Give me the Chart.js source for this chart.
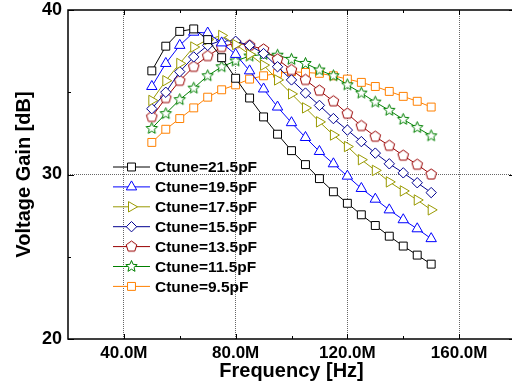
<!DOCTYPE html>
<html>
<head>
<meta charset="utf-8">
<script src="https://cdn.jsdelivr.net/npm/chart.js@4.4.0/dist/chart.umd.min.js"></script>
<style>
    html, body { margin: 0; padding: 0; background: #fff; overflow: hidden; }
</style>
</head>
<body>
<canvas id="gainChart" width="522" height="383"></canvas>
<script>
// frequency points [MHz]
const freqs = [50, 55, 60, 65, 70, 75, 80, 85, 90, 95, 100, 105, 110, 115, 120, 125, 130, 135, 140, 145, 150];

const seriesNames = ['Ctune=21.5pF', 'Ctune=19.5pF', 'Ctune=17.5pF', 'Ctune=15.5pF', 'Ctune=13.5pF', 'Ctune=11.5pF', 'Ctune=9.5pF'];

// voltage gain [dB]
const gain215 = [36.3, 37.8, 38.7, 38.85, 38.2, 37.1, 35.85, 34.65, 33.5, 32.45, 31.45, 30.6, 29.75, 28.95, 28.25, 27.55, 26.9, 26.25, 25.65, 25.1, 24.55];
const gain195 = [35.35, 36.75, 37.85, 38.65, 38.6, 38.0, 37.3, 36.3, 35.2, 34.1, 33.15, 32.25, 31.4, 30.65, 29.9, 29.15, 28.5, 27.85, 27.25, 26.7, 26.1];
const gain175 = [34.5, 35.7, 36.75, 37.75, 38.2, 38.45, 37.9, 37.3, 36.65, 35.75, 34.9, 34.05, 33.2, 32.4, 31.7, 30.9, 30.25, 29.55, 29.0, 28.45, 27.85];
const gain155 = [34.0, 35.0, 36.25, 37.15, 37.85, 38.15, 38.1, 37.85, 37.35, 36.55, 35.75, 34.95, 34.2, 33.4, 32.7, 32.0, 31.3, 30.65, 30.1, 29.5, 28.9];
const gain135 = [33.5, 34.65, 35.7, 36.55, 37.2, 37.75, 38.0, 37.85, 37.6, 37.0, 36.35, 35.75, 35.1, 34.45, 33.7, 32.95, 32.3, 31.75, 31.15, 30.6, 30.0];
const gain115 = [32.8, 33.7, 34.55, 35.25, 36.0, 36.55, 36.9, 37.2, 37.3, 37.25, 37.0, 36.75, 36.35, 36.0, 35.45, 34.95, 34.4, 33.9, 33.35, 32.85, 32.35];
const gain95 = [31.95, 32.75, 33.4, 34.05, 34.7, 35.15, 35.45, 35.8, 36.0, 36.15, 36.25, 36.2, 36.15, 36.0, 35.8, 35.6, 35.35, 35.05, 34.75, 34.45, 34.1];

const xTicks = [40, 80, 120, 160];
const xMinor = [60, 100, 140];
const yTicks = [20, 30, 40];
const yMinor = [25, 35];

const FONT = "'Liberation Sans', Arial, sans-serif";

// pentagon / star markers (not built into Chart.js)
function makeMarker(kind, color, r) {
    const c = document.createElement('canvas');
    const s = Math.ceil(2 * r + 3);
    c.width = s;
    c.height = s;
    const g = c.getContext('2d');
    const n = kind === 'star' ? 10 : 5;
    g.beginPath();
    for (let k = 0; k < n; k++) {
        const a = -Math.PI / 2 + k * 2 * Math.PI / n;
        const rr = (kind === 'star' && k % 2) ? r * 0.45 : r;
        const px = s / 2 + Math.cos(a) * rr;
        const py = s / 2 + Math.sin(a) * rr;
        if (k === 0) g.moveTo(px, py); else g.lineTo(px, py);
    }
    g.closePath();
    g.fillStyle = '#fff';
    g.fill();
    g.lineWidth = 1;
    g.strokeStyle = color;
    g.stroke();
    return c;
}

const styles = [
    { color: '#000000', pointStyle: 'rect', radius: 5.6, rotation: 0 },
    { color: '#0000ff', pointStyle: 'triangle', radius: 6, rotation: 0 },
    { color: '#999900', pointStyle: 'triangle', radius: 6, rotation: 90 },
    { color: '#000090', pointStyle: 'rectRot', radius: 5.2, rotation: 0 },
    { color: '#990000', pointStyle: makeMarker('pentagon', '#990000', 5.6), radius: 5.6, rotation: 0 },
    { color: '#008000', pointStyle: makeMarker('star', '#008000', 6), radius: 6, rotation: 0 },
    { color: '#ff8000', pointStyle: 'rect', radius: 5.6, rotation: 0 }
];

const allGains = [gain215, gain195, gain175, gain155, gain135, gain115, gain95];

const datasets = allGains.map((vals, i) => ({
    label: seriesNames[i],
    data: freqs.map((f, j) => ({ x: f, y: vals[j] })),
    borderColor: styles[i].color,
    borderWidth: 1,
    pointStyle: styles[i].pointStyle,
    pointRadius: styles[i].radius,
    pointRotation: styles[i].rotation,
    pointBorderColor: styles[i].color,
    pointBackgroundColor: '#fff',
    pointBorderWidth: 1,
    tension: 0
}));

// frame, inward ticks and the legend inside the plot
const framePlugin = {
    id: 'frame',
    afterDraw(chart) {
        const ctx = chart.ctx;
        const area = chart.chartArea;
        const xs = chart.scales.x;
        const ys = chart.scales.y;
        ctx.save();
        ctx.strokeStyle = '#000';
        ctx.lineWidth = 1;

        ctx.beginPath();
        xTicks.concat(xMinor).forEach(v => {
            const len = xTicks.includes(v) ? 5 : 3;
            const px = Math.round(xs.getPixelForValue(v)) + 0.5;
            ctx.moveTo(px, area.bottom); ctx.lineTo(px, area.bottom - len);
            ctx.moveTo(px, area.top); ctx.lineTo(px, area.top + len);
        });
        yTicks.concat(yMinor).forEach(v => {
            const len = yTicks.includes(v) ? 6 : 3;
            const py = Math.round(ys.getPixelForValue(v)) + 0.5;
            ctx.moveTo(area.left, py); ctx.lineTo(area.left + len, py);
            ctx.moveTo(area.right, py); ctx.lineTo(area.right - len, py);
        });
        ctx.stroke();

        ctx.lineWidth = 1.5;
        ctx.strokeRect(area.left, area.top, area.right - area.left, area.bottom - area.top);

        // legend
        const lx = area.left + 45;
        const ly = area.top + 157;
        ctx.font = 'bold 15.5px ' + FONT;
        ctx.textBaseline = 'middle';
        ctx.textAlign = 'left';
        styles.forEach((st, i) => {
            const y = ly + i * 19.9;
            ctx.strokeStyle = st.color;
            ctx.lineWidth = 1;
            ctx.beginPath();
            ctx.moveTo(lx, y);
            ctx.lineTo(lx + 37, y);
            ctx.stroke();
            ctx.fillStyle = '#fff';
            Chart.helpers.drawPoint(ctx, {
                pointStyle: st.pointStyle,
                rotation: st.rotation,
                radius: st.radius,
                borderWidth: 1
            }, lx + 18.5, y);
            ctx.fillStyle = '#000';
            ctx.fillText(seriesNames[i], lx + 42, y + 1);
        });
        ctx.restore();
    }
};

new Chart(document.getElementById('gainChart'), {
    type: 'line',
    data: { datasets: datasets },
    options: {
        responsive: false,
        animation: false,
        layout: { padding: { top: 10, right: 3, left: 0, bottom: 0 } },
        plugins: {
            legend: { display: false },
            tooltip: { enabled: false }
        },
        scales: {
            x: {
                type: 'linear',
                min: 20,
                max: 180,
                afterBuildTicks: s => { s.ticks = xTicks.map(v => ({ value: v })); },
                afterFit: s => {
                    s.height = 44;
                    s.paddingLeft = 0;
                    s.paddingRight = 0;
                },
                grid: { color: '#666', lineWidth: 1, drawTicks: false },
                border: { display: false, dash: [1, 1] },
                ticks: {
                    color: '#000',
                    padding: 4,
                    autoSkip: false,
                    maxRotation: 0,
                    font: { family: FONT, size: 17, weight: 'bold' },
                    callback: v => v.toFixed(1) + 'M'
                },
                title: {
                    display: true,
                    text: 'Frequency [Hz]',
                    color: '#000',
                    padding: { top: 2, bottom: 0 },
                    font: { family: FONT, size: 20, weight: 'bold' }
                }
            },
            y: {
                min: 20,
                max: 40,
                afterBuildTicks: s => { s.ticks = yTicks.map(v => ({ value: v })); },
                afterFit: s => {
                    s.width = 68;
                    s.paddingTop = 0;
                    s.paddingBottom = 0;
                },
                grid: {
                    color: c => (c.tick && c.tick.value === 30) ? '#666' : 'rgba(0,0,0,0)',
                    lineWidth: 1,
                    drawTicks: false
                },
                border: { display: false, dash: [1, 1] },
                ticks: {
                    color: '#000',
                    padding: 6,
                    font: { family: FONT, size: 18, weight: 'bold' }
                },
                title: {
                    display: true,
                    text: 'Voltage Gain [dB]',
                    color: '#000',
                    padding: { top: 12, bottom: 0 },
                    font: { family: FONT, size: 20, weight: 'bold' }
                }
            }
        }
    },
    plugins: [framePlugin]
});
</script>
</body>
</html>
